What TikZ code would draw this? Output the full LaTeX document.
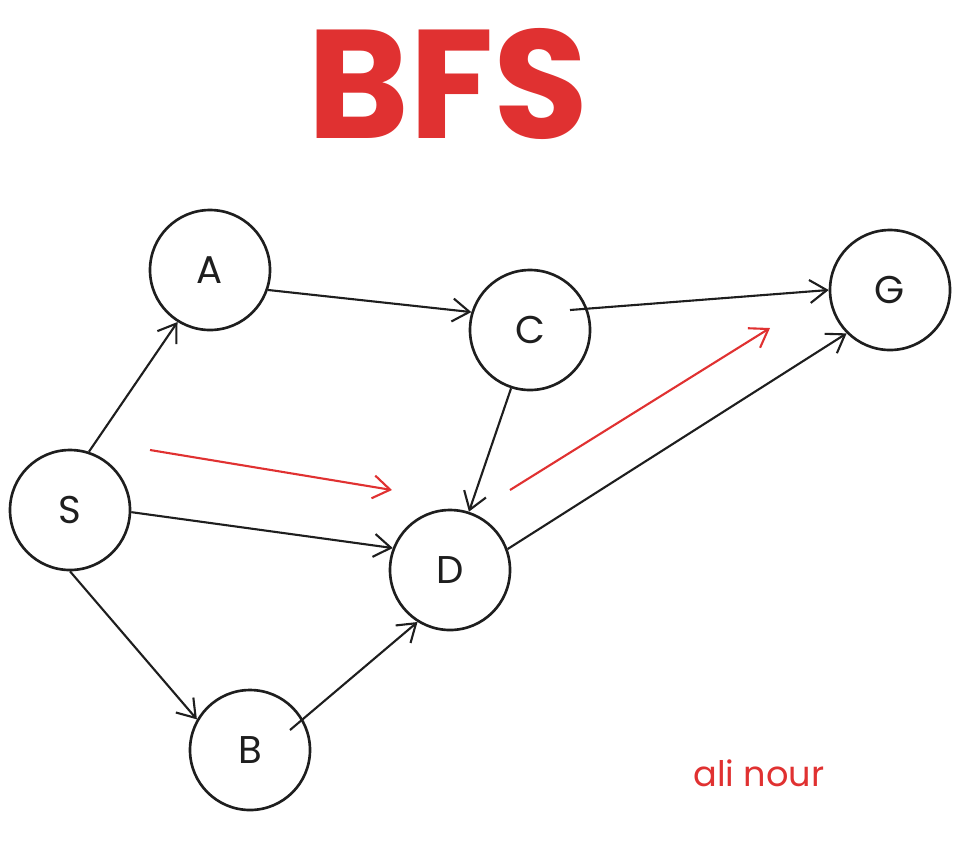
\documentclass[tikz,border=0pt]{standalone}
\usepackage{fontspec}
\setmainfont{Poppins}
\usepackage{tikz}
\usetikzlibrary{arrows.meta}
\definecolor{penred}{HTML}{E03131}
\definecolor{penblack}{HTML}{1E1E1E}

\begin{document}
\begin{tikzpicture}[x=0.2mm,y=-0.2mm,
		vertex/.style={draw=penblack,circle,line width=1.5pt,minimum size=24mm,inner sep=0pt,
			font=\fontsize{22}{22}\selectfont,text=penblack},
		edge/.style={draw=penblack,line width=1.2pt,-{Straight Barb[length=3.4mm,width=4.6mm]}},
		hint/.style={draw=penred,line width=1.2pt,-{Straight Barb[length=3.4mm,width=4.6mm]}}]
			\useasboundingbox (0,0) rectangle (960,852);
			\node (title) at (448,84) [text=penred,font=\fontsize{88}{88}\selectfont\bfseries] {BFS};
			\node[vertex] (S) at (70,510) {S};
			\node[vertex] (A) at (210,270) {A};
			\node[vertex] (B) at (250,750) {B};
			\node[vertex] (C) at (530,330) {C};
			\node[vertex] (D) at (450,570) {D};
			\node[vertex] (G) at (890,290) {G};
			\draw[edge] (S.72) -- (A.-122);
			\draw[edge] (A.-19) -- (C.163);
			\draw[edge] ([shift={(40,-20)}]C.center) -- (G.180);
			\draw[edge] (C.-108) -- (D.72);
			\draw[edge] (S.-2) -- (D.159);
			\draw[edge] (D.20) -- (G.-135);
			\draw[edge] (S.-90) -- (B.150);
			\draw[edge] ([shift={(40,-20)}]B.center) -- (D.-122);
			% red hints
			\coordinate (h1) at (150,450);
			\coordinate (h2) at (392,490);
			\coordinate (h3) at (510,490);
			\coordinate (h4) at (770,328);
			\draw[hint] (h1) -- (h2);
			\draw[hint] (h3) -- (h4);
			\node (name) at (759,773) [text=penred,font=\fontsize{20}{20}\selectfont] {ali nour};
		\end{tikzpicture}
\end{document}
